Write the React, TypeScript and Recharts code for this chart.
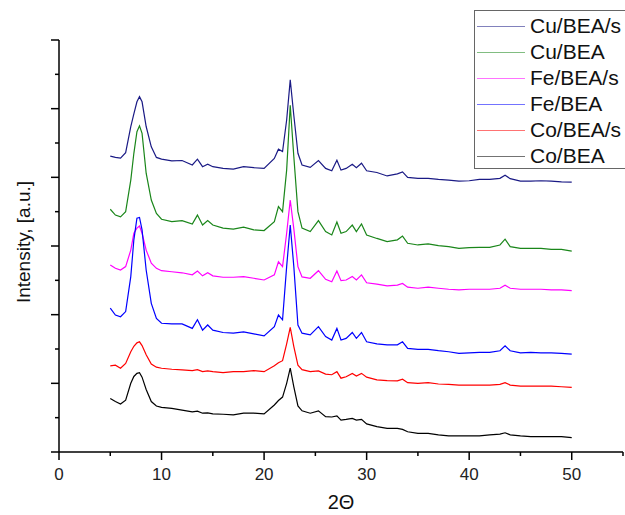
import React from "react";
import { LineChart, Line, XAxis, YAxis, Legend, Label } from "recharts";

// 2-theta positions (deg)
const twoTheta = [
  5, 5.5, 6, 6.5, 7, 7.3, 7.6, 7.85, 8.1, 8.5, 9, 9.5, 10, 11, 12, 13, 13.5, 14, 14.5, 15,
  16, 17, 18, 19, 20, 21, 21.4, 21.8, 22.2, 22.55, 22.9, 23.3, 23.7, 24.5, 25.3, 26, 26.6, 27.1, 27.5, 28,
  28.6, 29, 29.5, 30, 31, 32, 33, 33.5, 34, 35, 36, 37, 38, 39, 40, 41, 42, 43, 43.5, 44,
  45, 46, 47, 48, 49, 50,
];

// intensities, stacked with offsets as in the figure (1 unit = one y tick)
const cuBEAs = [
  8.62, 8.58, 8.56, 8.72, 9.48, 9.85, 10.2, 10.35, 10.2, 9.48, 8.89, 8.58, 8.53, 8.48, 8.49, 8.36, 8.53, 8.31, 8.38, 8.31,
  8.26, 8.24, 8.31, 8.28, 8.26, 8.55, 8.82, 8.75, 9.67, 10.84, 9.8, 8.7, 8.36, 8.29, 8.49, 8.26, 8.19, 8.5, 8.21, 8.26,
  8.38, 8.28, 8.41, 8.19, 8.14, 8.04, 8.1, 8.16, 8.0, 7.97, 7.97, 7.94, 7.92, 7.89, 7.9, 7.94, 7.94, 7.97, 8.06, 7.96,
  7.89, 7.89, 7.9, 7.89, 7.87, 7.86,
];
const cuBEA = [
  7.07, 6.9, 6.85, 7.0, 7.92, 8.7, 9.33, 9.5, 9.28, 8.12, 7.34, 6.95, 6.78, 6.71, 6.74, 6.64, 6.9, 6.61, 6.74, 6.61,
  6.52, 6.49, 6.55, 6.47, 6.45, 6.71, 7.15, 7.0, 8.21, 10.1, 8.6, 7.0, 6.52, 6.42, 6.74, 6.42, 6.32, 6.7, 6.37, 6.42,
  6.61, 6.42, 6.64, 6.32, 6.22, 6.13, 6.18, 6.29, 6.08, 6.03, 6.06, 6.01, 5.98, 5.93, 5.95, 5.96, 5.96, 6.03, 6.2, 5.98,
  5.93, 5.93, 5.93, 5.9, 5.9, 5.85,
];
const feBEAs = [
  5.45, 5.35, 5.3, 5.4, 5.88, 6.37, 6.52, 6.58, 6.37, 5.88, 5.5, 5.35, 5.28, 5.25, 5.22, 5.16, 5.27, 5.13, 5.22, 5.13,
  5.09, 5.09, 5.11, 5.06, 5.01, 5.16, 5.54, 5.4, 6.37, 7.34, 6.5, 5.4, 5.1, 5.06, 5.28, 5.03, 4.96, 5.27, 4.99, 5.01,
  5.11, 5.01, 5.16, 4.93, 4.89, 4.84, 4.86, 4.91, 4.8, 4.77, 4.8, 4.77, 4.74, 4.72, 4.74, 4.74, 4.74, 4.77, 4.86, 4.77,
  4.74, 4.74, 4.74, 4.72, 4.72, 4.7,
];
const feBEA = [
  4.19, 3.99, 3.94, 4.09, 5.11, 6.18, 6.81, 6.83, 6.47, 5.3, 4.33, 3.89, 3.75, 3.73, 3.73, 3.6, 3.85, 3.55, 3.7, 3.55,
  3.48, 3.46, 3.5, 3.44, 3.38, 3.65, 3.99, 3.85, 5.4, 6.61, 5.4, 3.7, 3.46, 3.41, 3.65, 3.36, 3.26, 3.6, 3.26, 3.31,
  3.48, 3.31, 3.48, 3.21, 3.15, 3.12, 3.12, 3.21, 3.02, 2.99, 2.99, 2.95, 2.92, 2.87, 2.89, 2.9, 2.9, 2.95, 3.09, 2.95,
  2.89, 2.9, 2.89, 2.89, 2.87, 2.85,
];
const coBEAs = [
  2.51, 2.53, 2.44, 2.58, 2.92, 3.08, 3.18, 3.21, 3.1, 2.83, 2.56, 2.47, 2.44, 2.41, 2.39, 2.37, 2.4, 2.34, 2.36, 2.34,
  2.31, 2.34, 2.34, 2.37, 2.34, 2.51, 2.6, 2.66, 3.15, 3.63, 3.07, 2.53, 2.4, 2.34, 2.36, 2.27, 2.25, 2.34, 2.15, 2.19,
  2.29, 2.21, 2.29, 2.18, 2.1, 2.08, 2.07, 2.12, 2.02, 2.0, 2.02, 1.98, 1.97, 1.95, 1.95, 1.95, 1.95, 1.97, 2.02, 1.95,
  1.92, 1.92, 1.92, 1.92, 1.9, 1.88,
];
const coBEA = [
  1.56, 1.47, 1.4, 1.51, 2.0, 2.2, 2.29, 2.31, 2.18, 1.82, 1.47, 1.34, 1.3, 1.27, 1.22, 1.17, 1.19, 1.13, 1.14, 1.11,
  1.1, 1.08, 1.13, 1.13, 1.11, 1.37, 1.5, 1.6, 2.0, 2.44, 1.9, 1.34, 1.2, 1.13, 1.2, 1.03, 1.02, 1.05, 0.93, 0.95,
  0.98, 0.93, 0.95, 0.82, 0.74, 0.69, 0.69, 0.66, 0.59, 0.54, 0.54, 0.5, 0.47, 0.47, 0.47, 0.47, 0.5, 0.52, 0.56, 0.5,
  0.47, 0.45, 0.45, 0.45, 0.45, 0.42,
];

const xTicks = [0, 5, 10, 15, 20, 25, 30, 35, 40, 45, 50, 55];
const yTicks = [0, 1, 2, 3, 4, 5, 6, 7, 8, 9, 10, 11, 12];

const series = [
  { name: "Cu/BEA/s", values: cuBEAs, color: "#1a1a85" },
  { name: "Cu/BEA", values: cuBEA, color: "#1a861a" },
  { name: "Fe/BEA/s", values: feBEAs, color: "#ff00ff" },
  { name: "Fe/BEA", values: feBEA, color: "#0000ff" },
  { name: "Co/BEA/s", values: coBEAs, color: "#ff0000" },
  { name: "Co/BEA", values: coBEA, color: "#000000" },
];

const data = twoTheta.map((x, i) => {
  const row: any = { x };
  series.forEach((s) => {
    row[s.name] = s.values[i];
  });
  return row;
});

const font = "'Liberation Sans', Arial, sans-serif";

const XTick = (props: any) => {
  const { x, y, payload } = props;
  const major = payload.value % 10 === 0;
  return (
    <g>
      <line x1={x} y1={y} x2={x} y2={y + (major ? 8 : 4)} stroke="#000" strokeWidth={1.5} />
      {major && (
        <text x={x} y={y + 28} textAnchor="middle" fontSize={17} fontFamily={font} fill="#222">
          {payload.value}
        </text>
      )}
    </g>
  );
};

const YTick = (props: any) => {
  const { x, y, payload } = props;
  const major = payload.value % 2 === 0;
  return <line x1={x} y1={y} x2={x - (major ? 8 : 4)} y2={y} stroke="#000" strokeWidth={1.5} />;
};

const renderLegend = () => (
  <div
    style={{
      border: "1px solid #666",
      width: 175,
      height: 159,
      boxSizing: "border-box",
      padding: "2px 0 0 2px",
      fontFamily: font,
      fontSize: 21,
      background: "#fff",
      color: "#111",
    }}
  >
    {series.map((s) => (
      <div key={s.name} style={{ display: "flex", alignItems: "center", height: 26, lineHeight: "26px" }}>
        <div style={{ width: 48, height: 0, borderTop: `1.5px solid ${s.color}`, opacity: 0.55 }} />
        <span style={{ marginLeft: 5, whiteSpace: "nowrap" }}>{s.name}</span>
      </div>
    ))}
  </div>
);

export default function App() {
  return (
    <div style={{ position: "absolute", left: 0, top: 0, width: 625, height: 515, overflow: "hidden", background: "#fff" }}>
      <LineChart width={625} height={515} data={data} margin={{ top: 40, right: 2, bottom: 0, left: 9 }}>
        <XAxis
          dataKey="x"
          type="number"
          domain={[0, 55]}
          ticks={xTicks}
          interval={0}
          allowDataOverflow
          height={63}
          tickSize={0}
          tickMargin={0}
          tickLine={false}
          tick={<XTick />}
          axisLine={{ stroke: "#000", strokeWidth: 1.5 }}
        >
          <Label
            content={(p: any) => {
              const vb = p.viewBox;
              return (
                <text x={vb.x + vb.width / 2} y={vb.y + 57} textAnchor="middle" fontSize={20} fontFamily={font} fill="#111">
                  2Θ
                </text>
              );
            }}
          />
        </XAxis>
        <YAxis
          type="number"
          domain={[0, 12]}
          ticks={yTicks}
          interval={0}
          allowDataOverflow
          width={50}
          tickSize={0}
          tickMargin={0}
          tickLine={false}
          tick={<YTick />}
          axisLine={{ stroke: "#000", strokeWidth: 1.5 }}
        >
          <Label
            content={(p: any) => {
              const vb = p.viewBox;
              const cx = 23;
              const cy = vb.y + vb.height / 2 - 4;
              return (
                <text
                  x={cx}
                  y={cy}
                  transform={`rotate(-90, ${cx}, ${cy})`}
                  textAnchor="middle"
                  dominantBaseline="central"
                  fontSize={19}
                  fontFamily={font}
                  fill="#111"
                >
                  Intensity, [a.u.]
                </text>
              );
            }}
          />
        </YAxis>
        {series.map((s) => (
          <Line
            key={s.name}
            type="linear"
            dataKey={s.name}
            stroke={s.color}
            strokeWidth={1.2}
            dot={false}
            isAnimationActive={false}
          />
        ))}
        <Legend
          layout="horizontal"
          align="center"
          verticalAlign="middle"
          width={175}
          content={renderLegend}
          wrapperStyle={{ left: 474, top: 10, width: 175 }}
        />
      </LineChart>
    </div>
  );
}
